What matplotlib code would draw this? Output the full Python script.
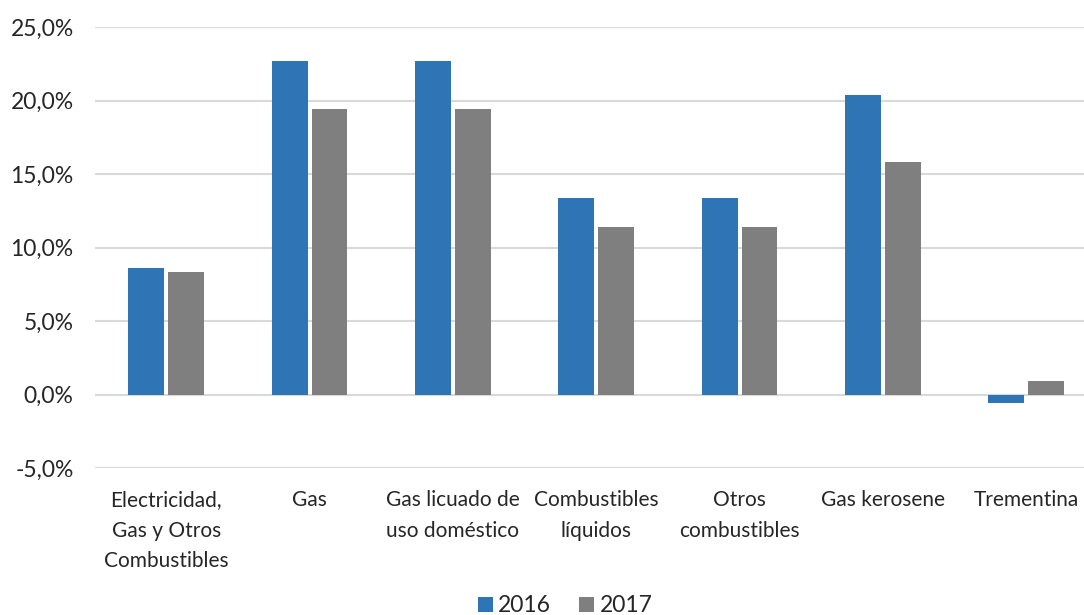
import numpy as np
import matplotlib.pyplot as plt

categorias = ["Electricidad,\nGas y Otros\nCombustibles", "Gas", "Gas licuado de\nuso doméstico",
              "Combustibles\nlíquidos", "Otros\ncombustibles", "Gas kerosene", "Trementina"]
v2016 = [8.6, 22.7, 22.7, 13.4, 13.4, 20.4, -0.6]
v2017 = [8.3, 19.4, 19.4, 11.4, 11.4, 15.8, 0.9]
yticks = [-5, 0, 5, 10, 15, 20, 25]

plt.rcParams['font.family'] = ['Lato', 'DejaVu Sans']

fig = plt.figure(figsize=(10.84, 6.15), dpi=100)
ax = fig.add_axes([94.5 / 1084, 1 - 468 / 615, (1098 - 94.5) / 1084, (468 - 27) / 615])

x = np.arange(len(categorias))
w = 0.25
ax.bar(x - 0.139, v2016, w, color='#2E75B6', label='2016', zorder=3)
ax.bar(x + 0.139, v2017, w, color='#7F7F7F', label='2017', zorder=3)

ax.set_xlim(-0.5, 6.5)
ax.set_ylim(-5, 25)
ax.set_yticks(yticks)
ax.set_yticklabels([f"{t:.1f}%".replace('.', ',') for t in yticks], fontsize=16.5, color='#262626')
ax.set_xticks(x)
ax.set_xticklabels(categorias, fontsize=15, color='#262626', linespacing=1.65, va='top')
ax.tick_params(length=0)
ax.tick_params(axis='x', pad=16)
ax.tick_params(axis='y', pad=15)
ax.grid(axis='y', color='#D9D9D9', linewidth=1.5, zorder=0)
for s in ax.spines.values():
    s.set_visible(False)

fig.legend(loc='center', bbox_to_anchor=(565 / 1084, 1 - 606 / 615), ncol=2, frameon=False,
           fontsize=16.5, handlelength=0.65, handleheight=0.65, handletextpad=0.25, columnspacing=1.2,
           labelcolor='#262626')

fig.savefig('out.png', dpi=100)
